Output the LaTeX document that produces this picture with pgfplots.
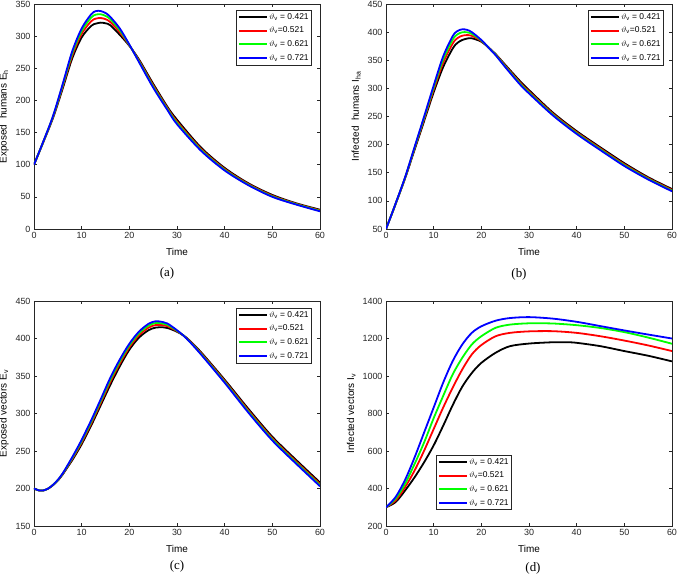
\documentclass[border=0pt]{standalone}
\usepackage{fontspec}
\setmainfont{Liberation Sans}
\newfontfamily\serif{Liberation Serif}
\usepackage{pgfplots}
\pgfplotsset{compat=1.18}
\definecolor{axgray}{RGB}{38,38,38}
\definecolor{mgreen}{RGB}{0,255,0}
\pgfplotsset{
 myaxis/.style={
  scale only axis, width=286bp, height=225bp,
  xmin=0, xmax=60, xtick={0,10,...,60},
  tick align=inside, tick pos=both, major tick length=3bp,
  axis line style={axgray, line width=0.5bp},
  every tick/.style={axgray, line width=0.5bp},
  tick label style={font=\fontsize{9}{10}\selectfont, text=axgray},
  label style={font=\fontsize{10}{11}\selectfont},
  xlabel style={yshift=-2.5bp},
  /pgf/number format/assume math mode=true,
  /pgf/number format/1000 sep={},
  xlabel={Time},
  legend cell align=left,
  legend style={font=\fontsize{8.5}{10}\selectfont, draw=axgray, line width=0.6bp, inner xsep=1.5bp, inner ysep=1.5bp, row sep=3.3bp, nodes={inner sep=1.5bp}},
  legend image code/.code={\draw[#1, line width=2bp] (0bp,0bp) -- (28bp,0bp);},
  every axis plot/.append style={line width=1.8bp, smooth, no marks},
 }
}
\newcommand{\leg}{\legend{$\vartheta$\textsubscript{v} = 0.421, $\vartheta$\textsubscript{v}=0.521, $\vartheta$\textsubscript{v} = 0.621, $\vartheta$\textsubscript{v} = 0.721}}
\begin{document}
\begin{tikzpicture}
\useasboundingbox (0,0) rectangle (677bp,575bp);
% (a)
\begin{axis}[myaxis, at={(34bp,346bp)}, anchor=south west,
 ymin=0, ymax=350, ytick={0,50,...,350},
 ylabel={Exposed\ \ humans E\textsubscript{h}},
 legend style={at={(0.972,0.973)}, anchor=north east}]
\addplot[black] coordinates {(0,100)(2,136)(4,173)(6,218)(8,265)(10,298)(12,316)(13,319.5)(14,321)(15,320)(16,317)(18,302)(20,285)(22,264)(25,226)(28,190)(30,170)(35,127)(40,95)(45,71)(50,53)(55,40)(60,30)};
\addplot[red] coordinates {(0,100)(2,136.4)(4,174.2)(6,220.8)(8,269.4)(10,303.6)(12,323.2)(13,327.3)(14,328.2)(15,326.4)(16,322)(18,306)(20,285.8)(22,262.4)(25,223.6)(28,188)(30,167.2)(35,125)(40,93.4)(45,69.8)(50,51.8)(55,39.2)(60,29)};
\addplot[mgreen] coordinates {(0,100)(2,136.7)(4,175.2)(6,223)(8,272.9)(10,308)(12,329)(13,333.5)(14,334)(15,331.5)(16,326.5)(18,309.2)(20,286.4)(22,261.1)(25,221.7)(28,186.4)(30,165)(35,123.4)(40,92.1)(45,68.8)(50,50.8)(55,38.6)(60,28.2)};
\addplot[blue] coordinates {(0,100)(2,137)(4,176)(6,225)(8,276)(10,312)(12,334)(13,339)(14,339)(15,336)(16,330)(18,312)(20,287)(22,260)(25,220)(28,185)(30,163)(35,122)(40,91)(45,68)(50,50)(55,38)(60,27.5)};
\leg
\end{axis}
% (b)
\begin{axis}[myaxis, at={(386bp,346bp)}, anchor=south west,
 ymin=50, ymax=450, ytick={50,100,...,450},
 ylabel={Infected\ \ humans I\textsubscript{ha}},
 legend style={at={(0.972,0.973)}, anchor=north east}]
\addplot[black] coordinates {(0,50)(1,72)(2,94)(4,140)(6,191)(8,242)(10,293)(12,338)(14,371)(15,381)(16,386)(17,388.5)(18,389)(20,383)(22,369)(23,361)(25,342)(28,314)(30,297)(35,257)(40,224)(45,195)(50,167)(55,142)(60,121)};
\addplot[red] coordinates {(0,50)(1,72)(2,94.4)(4,140.8)(6,193)(8,245.2)(10,297.8)(12,345.6)(14,379.8)(15,389.4)(16,393.6)(17,394.7)(18,393.4)(20,384.2)(22,368.6)(23,360.2)(25,340.4)(28,311.6)(30,294.6)(35,255)(40,222)(45,193)(50,165)(55,140.4)(60,119.4)};
\addplot[mgreen] coordinates {(0,50)(1,72)(2,94.7)(4,141.4)(6,194.6)(8,247.8)(10,301.6)(12,351.7)(14,386.8)(15,396.1)(16,399.7)(17,399.7)(18,396.9)(20,385.2)(22,368.3)(23,359.6)(25,339.1)(28,309.7)(30,292.7)(35,253.4)(40,220.4)(45,191.4)(50,163.4)(55,139.1)(60,118.1)};
\addplot[blue] coordinates {(0,50)(1,72)(2,95)(4,142)(6,196)(8,250)(10,305)(12,357)(14,393)(15,402)(16,405)(17,404)(18,400)(20,386)(22,368)(23,359)(25,338)(28,308)(30,291)(35,252)(40,219)(45,190)(50,162)(55,138)(60,117)};
\leg
\end{axis}
% (c)
\begin{axis}[myaxis, at={(34bp,49bp)}, anchor=south west,
 ymin=150, ymax=450, ytick={150,200,...,450},
 ylabel={Exposed vectors E\textsubscript{v}},
 legend style={at={(0.972,0.969)}, anchor=north east}]
\addplot[black] coordinates {(0,200)(1,197.5)(2,197.5)(3,200)(4,204.5)(5,210.5)(6,218.5)(7,228)(8,237.5)(9,248)(10,259)(12,284)(14,311)(16,338)(18,363)(20,385)(22,401)(24,411)(25.5,414.5)(27,415)(28,414)(30,409)(32,401)(35,382)(40,345)(45,306)(50,269)(55,238)(60,208)};
\addplot[red] coordinates {(0,200)(1,197.5)(2,197.5)(3,200)(4,204.7)(5,210.9)(6,219.1)(7,229)(8,239.1)(9,250)(10,261.4)(12,286.8)(14,314.2)(16,341.8)(18,366.6)(20,388.2)(22,404.2)(24,414.4)(25.5,417.9)(27,417.8)(28,416.4)(30,409.8)(32,400.6)(35,380.8)(40,343.4)(45,304)(50,267)(55,236)(60,206)};
\addplot[mgreen] coordinates {(0,200)(1,197.5)(2,197.5)(3,200)(4,204.9)(5,211.2)(6,219.6)(7,229.8)(8,240.4)(9,251.6)(10,263.3)(12,289)(14,316.8)(16,344.8)(18,369.5)(20,390.8)(22,406.8)(24,417.1)(25.5,420.6)(27,420)(28,418.3)(30,410.4)(32,400.3)(35,379.8)(40,342.1)(45,302.4)(50,265.4)(55,234.4)(60,204.4)};
\addplot[blue] coordinates {(0,200)(1,197.5)(2,197.5)(3,200)(4,205)(5,211.5)(6,220)(7,230.5)(8,241.5)(9,253)(10,265)(12,291)(14,319)(16,347.5)(18,372)(20,393)(22,409)(24,419.5)(25.5,423)(27,422)(28,420)(30,411)(32,400)(35,379)(40,341)(45,301)(50,264)(55,233)(60,203)};
\leg
\end{axis}
% (d)
\begin{axis}[myaxis, at={(386bp,49bp)}, anchor=south west,
 ymin=200, ymax=1400, ytick={200,400,...,1400},
 ylabel={Infected vectors I\textsubscript{v}},
 legend style={at={(0.175,0.071)}, anchor=south west}]
\addplot[black] coordinates {(0,300)(2,327)(4,389)(6,460)(8,540)(10,630)(12,735)(14,845)(16,943)(18,1016)(20,1070)(23,1124)(26,1159)(30,1173)(35,1180)(38,1180)(40,1177)(45,1159)(50,1133)(55,1108)(60,1078)};
\addplot[red] coordinates {(0,300)(2,336)(4,407)(6,496)(8,602)(10,717)(12,832)(14,938)(16,1035)(18,1115)(20,1165)(23,1212)(26,1230)(30,1238)(35,1239)(40,1230)(45,1212)(50,1189)(55,1163)(60,1133)};
\addplot[mgreen] coordinates {(0,300)(2,345)(4,425)(6,531)(8,646)(10,775)(12,894)(14,1009)(16,1097)(18,1168)(20,1212)(23,1257)(26,1274)(30,1281)(35,1280)(40,1271)(45,1256)(50,1234)(55,1205)(60,1172)};
\addplot[blue] coordinates {(0,300)(2,354)(4,446)(6,566)(8,699)(10,832)(12,965)(14,1080)(16,1168)(18,1230)(20,1265)(23,1295)(26,1309)(30,1314)(35,1306)(40,1289)(45,1266)(50,1243)(55,1221)(60,1200)};
\leg
\end{axis}
\node[font=\serif\fontsize{13}{15}\selectfont] at (167bp,302bp) {(a)};
\node[font=\serif\fontsize{13}{15}\selectfont] at (519bp,301bp) {(b)};
\node[font=\serif\fontsize{13}{15}\selectfont] at (177bp,9bp) {(c)};
\node[font=\serif\fontsize{13}{15}\selectfont] at (533bp,7bp) {(d)};
\end{tikzpicture}
\end{document}
